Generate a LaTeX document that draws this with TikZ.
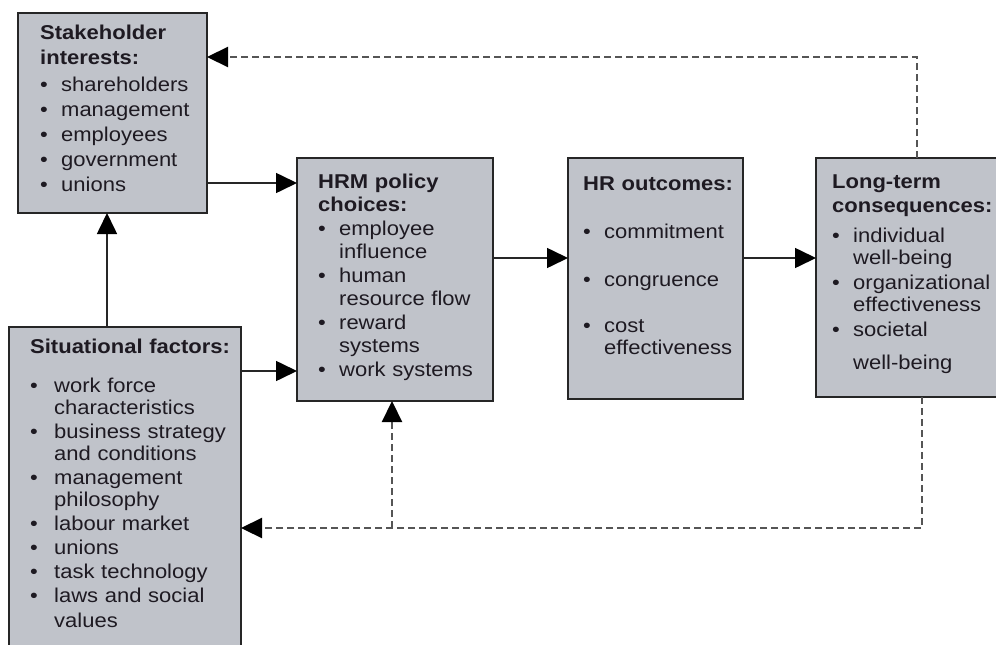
\documentclass[tikz,border=0pt]{standalone}
\usepackage{fontspec}
\setmainfont{Liberation Sans}[FakeStretch=1.1]
\usetikzlibrary{arrows.meta}
\definecolor{boxfill}{HTML}{C0C3CA}
\definecolor{boxline}{HTML}{262626}
\definecolor{txtc}{HTML}{1E1A22}
\definecolor{dashc}{HTML}{555555}
\newcommand\bu{\makebox[21pt][l]{•}}
\newcommand\bw{\makebox[24pt][l]{•}}
\newcommand\ind{\hspace*{21pt}}
\newcommand\inw{\hspace*{24pt}}
\begin{document}
\begin{tikzpicture}[x=1pt,y=-1pt,
  box/.style={draw=boxline, fill=boxfill, line width=1.6pt, inner sep=0pt, outer sep=0pt, anchor=north west},
  txt/.style={anchor=base west, inner sep=0pt, text width=230pt, align=left, text=txtc,
     font=\fontsize{20}{22}\selectfont},
  arr/.style={line width=1.6pt, draw=boxline, -{Triangle[length=21pt,width=20pt,color=black]}},
  dsh/.style={line width=2.2pt, draw=dashc, dash pattern=on 7pt off 4pt,
     -{Triangle[length=21pt,width=20pt,color=black]}}]
\clip (0,0) rectangle (996,645);
\fill[white] (0,0) rectangle (996,645);

% boxes
\node[box, minimum width=189pt, minimum height=200pt] (stake) at (18,13) {};
\node[box, minimum width=232pt, minimum height=340pt] (sit) at (9,327) {};
\node[box, minimum width=196pt, minimum height=243pt] (hrm) at (297,158) {};
\node[box, minimum width=175pt, minimum height=241pt] (hro) at (568,158) {};
\node[box, minimum width=195pt, minimum height=239pt] (lt) at (816,158) {};

% texts
\node[txt, font=\fontsize{20}{25}\selectfont] (stake-t) at (40,39) {%
\textbf{Stakeholder}\\
\textbf{interests:}\\[2pt]
\bu shareholders\\
\bu management\\
\bu employees\\
\bu government\\
\bu unions};

\node[txt] (sit-t) at (30,353) {%
\textbf{Situational factors:}\\[17pt]
\bw work force\\
\inw characteristics\\[2pt]
\bw business strategy\\
\inw and conditions\\[2pt]
\bw management\\
\inw philosophy\\[2pt]
\bw labour market\\[2pt]
\bw unions\\[2pt]
\bw task technology\\[2pt]
\bw laws and social\\[3pt]
\inw values};

\node[txt, font=\fontsize{20}{23}\selectfont] (hrm-t) at (318,188) {%
\textbf{HRM policy}\\
\textbf{choices:}\\[1pt]
\bu employee\\
\ind influence\\[1pt]
\bu human\\
\ind resource flow\\[1pt]
\bu reward\\
\ind systems\\[1pt]
\bu work systems};

\node[txt] (hro-t) at (583,190) {%
\textbf{HR outcomes:}\\[26pt]
\bu commitment\\[26pt]
\bu congruence\\[24pt]
\bu cost\\
\ind effectiveness};

\node[txt] (lt-t) at (832,188) {%
\textbf{Long-term}\\[2pt]
\textbf{consequences:}\\[8pt]
\bu individual\\
\ind well-being\\[3pt]
\bu organizational\\
\ind effectiveness\\[3pt]
\bu societal\\[11pt]
\ind well-being};

% solid connectors
\draw[arr] (stake.east |- 0,183) -- (hrm.west |- 0,183);
\draw[arr] (sit.east |- 0,371) -- (hrm.west |- 0,371);
\draw[arr] (sit.north -| 107,0) -- (stake.south -| 107,0);
\draw[arr] (hrm.east |- 0,258) -- (hro.west |- 0,258);
\draw[arr] (hro.east |- 0,258) -- (lt.west |- 0,258);

% dashed feedback
\coordinate (tr) at (917,57);
\coordinate (br) at (922,528);
\coordinate (bj) at (392,528);
\draw[dsh] (lt.north -| tr) -- (tr) -- (stake.east |- tr);
\draw[dsh] (lt.south -| br) -- (br) -- (sit.east |- br);
\draw[dsh] (bj) -- (hrm.south -| bj);
\end{tikzpicture}
\end{document}
